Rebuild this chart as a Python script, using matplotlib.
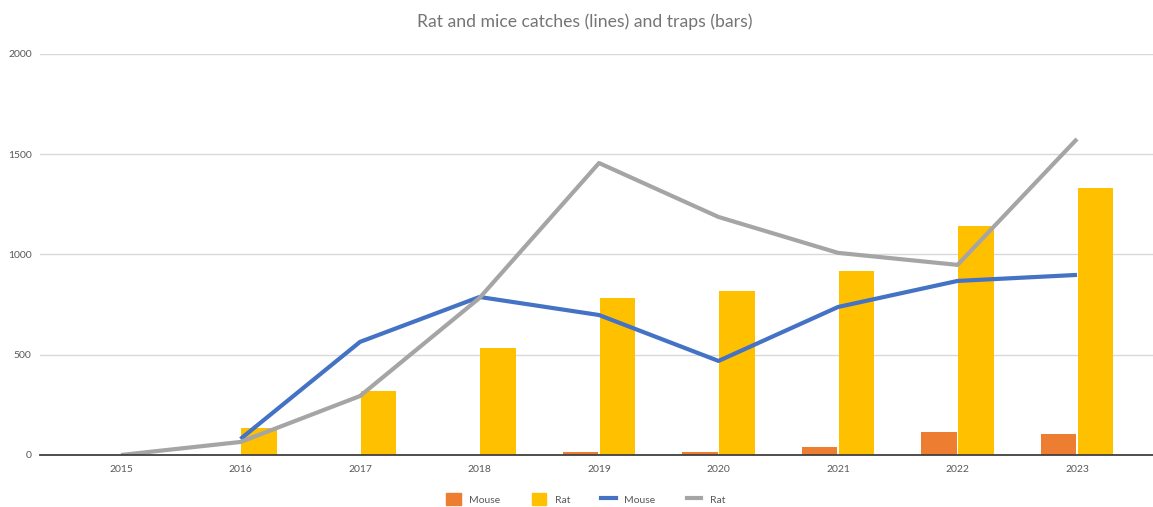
import numpy as np
import matplotlib
matplotlib.use("Agg")
import matplotlib.pyplot as plt
from matplotlib.patches import Patch
from matplotlib.lines import Line2D

# data
years = ["2015", "2016", "2017", "2018", "2019", "2020", "2021", "2022", "2023"]
mouse_traps = [0, 0, 0, 0, 15, 15, 41, 115, 103]
rat_traps = [0, 135, 320, 534, 783, 818, 918, 1142, 1332]
mouse_catches = [np.nan, 80, 564, 788, 698, 469, 738, 868, 898]
rat_catches = [0, 65, 294, 783, 1456, 1187, 1008, 948, 1576]

plt.rcParams['font.family'] = ['Lato', 'DejaVu Sans']

fig = plt.figure(figsize=(11.53, 5.07), dpi=100)
ax = fig.add_axes([0.0347, 0.1026, 0.9653, 0.791])

x = np.arange(len(years))
w = 0.3
ax.bar(x - 0.155, mouse_traps, w, color="#ED7D31", zorder=2)
ax.bar(x + 0.155, rat_traps, w, color="#FFC000", zorder=2)
ax.plot(x, mouse_catches, color="#4472C4", lw=3, zorder=3, solid_capstyle="butt")
ax.plot(x, rat_catches, color="#A5A5A5", lw=3, zorder=4, solid_capstyle="butt")

ax.set_xlim(-0.678, 8.636)
ax.set_ylim(0, 2000)
ax.set_yticks([0, 500, 1000, 1500, 2000])
ax.set_xticks(x)
ax.set_xticklabels(years)
ax.tick_params(axis="both", length=0, labelsize=7.5, colors="#595959")
ax.tick_params(axis="y", pad=6)
ax.tick_params(axis="x", pad=7)
ax.grid(axis="y", color="#D9D9D9", lw=1, zorder=0)
for s in ["top", "right", "left"]:
    ax.spines[s].set_visible(False)
ax.spines["bottom"].set_color("#404040")
ax.spines["bottom"].set_linewidth(1.3)
ax.spines["bottom"].set_zorder(5)

fig.text(0.507, 0.958, "Rat and mice catches (lines) and traps (bars)",
         ha="center", va="center", fontsize=12.7, color="#757575")

handles = [Patch(color="#ED7D31", label="Mouse"),
           Patch(color="#FFC000", label="Rat"),
           Line2D([], [], color="#4472C4", lw=3, label="Mouse"),
           Line2D([], [], color="#A5A5A5", lw=3, label="Rat")]
fig.legend(handles=handles, loc="center", bbox_to_anchor=(0.508, 0.015),
           ncol=4, frameon=False, fontsize=7.5, labelcolor="#595959",
           handlelength=1.4, handleheight=1.4, columnspacing=3.0)

fig.savefig("out.png", dpi=100)
